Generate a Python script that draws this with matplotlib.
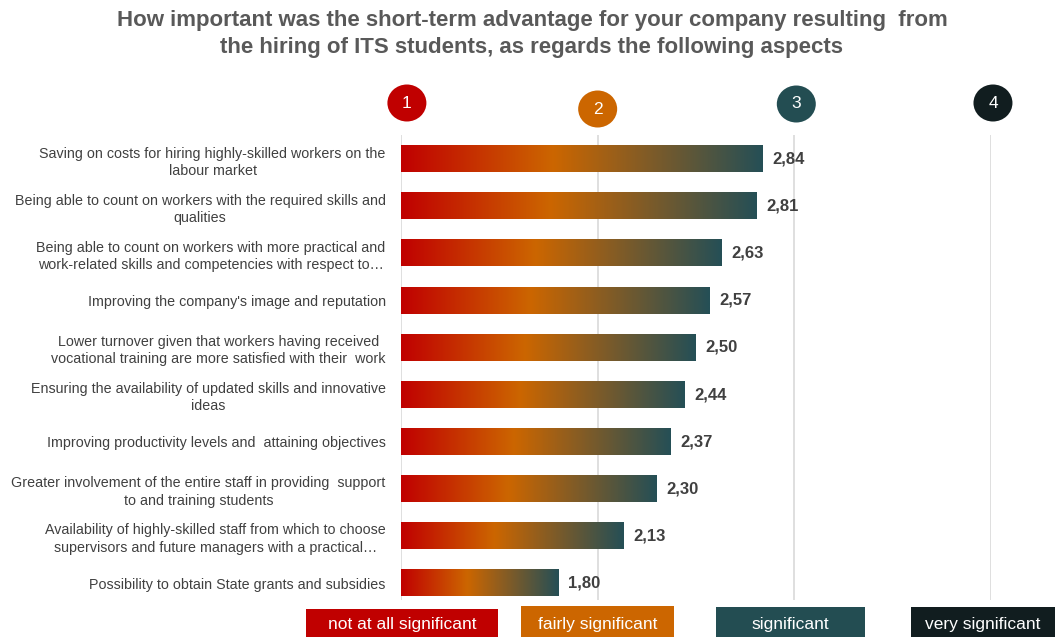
import matplotlib.pyplot as plt
import matplotlib.transforms as mtransforms
import numpy as np
from matplotlib.colors import LinearSegmentedColormap
from matplotlib.patches import Ellipse, Rectangle

plt.rcParams["font.family"] = ["Liberation Sans", "DejaVu Sans"]

aspects = [
    "Saving on costs for hiring highly-skilled workers on the\nlabour market",
    "Being able to count on workers with the required skills and\nqualities",
    "Being able to count on workers with more practical and\nwork-related skills and competencies with respect to\u2026",
    "Improving the company's image and reputation",
    "Lower turnover given that workers having received\nvocational training are more satisfied with their  work",
    "Ensuring the availability of updated skills and innovative\nideas",
    "Improving productivity levels and  attaining objectives",
    "Greater involvement of the entire staff in providing  support\nto and training students",
    "Availability of highly-skilled staff from which to choose\nsupervisors and future managers with a practical\u2026",
    "Possibility to obtain State grants and subsidies",
]
scores = [2.84, 2.81, 2.63, 2.57, 2.50, 2.44, 2.37, 2.30, 2.13, 1.80]

scale_points = [1, 2, 3, 4]
scale_names = ["not at all significant", "fairly significant", "significant", "very significant"]
scale_colors = ["#C00000", "#CC6600", "#234D52", "#111D1F"]

W, H = 1064, 637
fig = plt.figure(figsize=(W / 100, H / 100), dpi=100)
ax = fig.add_axes([401 / W, 1 - 600 / H, 590 / W, 465 / H])

cmap = LinearSegmentedColormap.from_list(
    "heat", [(0.0, "#C00000"), (0.42, "#CC6600"), (1.0, "#254F56")]
)
grad = np.linspace(0, 1, 256).reshape(1, -1)

bar_h = 0.56
for i, v in enumerate(scores):
    ax.imshow(grad, cmap=cmap, aspect="auto", interpolation="bilinear",
              extent=(1, v, i + bar_h / 2, i - bar_h / 2), zorder=2)
    ax.text(v + 0.05, i, f"{v:.2f}".replace(".", ","), va="center", ha="left",
            fontsize=12, fontweight="bold", color="#404040")

for x in scale_points:
    ax.axvline(x, color="#D9D9D9", lw=1.2, zorder=1)

ax.set_xlim(1, 4)
ax.set_ylim(9.36, -0.51)
ax.set_yticks(range(len(aspects)))
ax.set_yticklabels(aspects, fontsize=10.3, color="#404040",
                   multialignment="center", linespacing=1.3)
ax.tick_params(axis="y", length=0, pad=11)
ax.set_xticks([])
for s in ax.spines.values():
    s.set_visible(False)

# numbered circles above the scale and coloured captions below it
blend = mtransforms.blended_transform_factory(ax.transData, fig.transFigure)
circle_x = [1.03, 2.0, 3.01, 4.01]
circle_y = [103, 109, 104, 103]
for n, cx, cy, c in zip(scale_points, circle_x, circle_y, scale_colors):
    fig.add_artist(Ellipse((cx, 1 - cy / H), 39 / 196.7, 37 / H, transform=blend,
                           facecolor=c, edgecolor="none"))
    fig.text(cx, 1 - cy / H, str(n), transform=blend, ha="center", va="center",
             color="white", fontsize=12.5)

box_x = [1.005, 2.0, 2.98, 3.96]
box_w = [0.98, 0.78, 0.76, 0.73]
box_top = [609, 606, 607, 607]
for name, bx, bw, bt, c in zip(scale_names, box_x, box_w, box_top, scale_colors):
    fig.add_artist(Rectangle((bx - bw / 2, 0), bw, 1 - bt / H, transform=blend,
                             facecolor=c, edgecolor="none"))
    fig.text(bx, 1 - 625 / H, name, transform=blend, ha="center", va="center",
             color="white", fontsize=12.5)

fig.text(0.5, 1 - 34 / H,
         "How important was the short-term advantage for your company resulting  from\n"
         "the hiring of ITS students, as regards the following aspects",
         ha="center", va="center", fontsize=16, fontweight="bold", color="#595959",
         linespacing=1.35)

fig.savefig("out.png", dpi=100)
